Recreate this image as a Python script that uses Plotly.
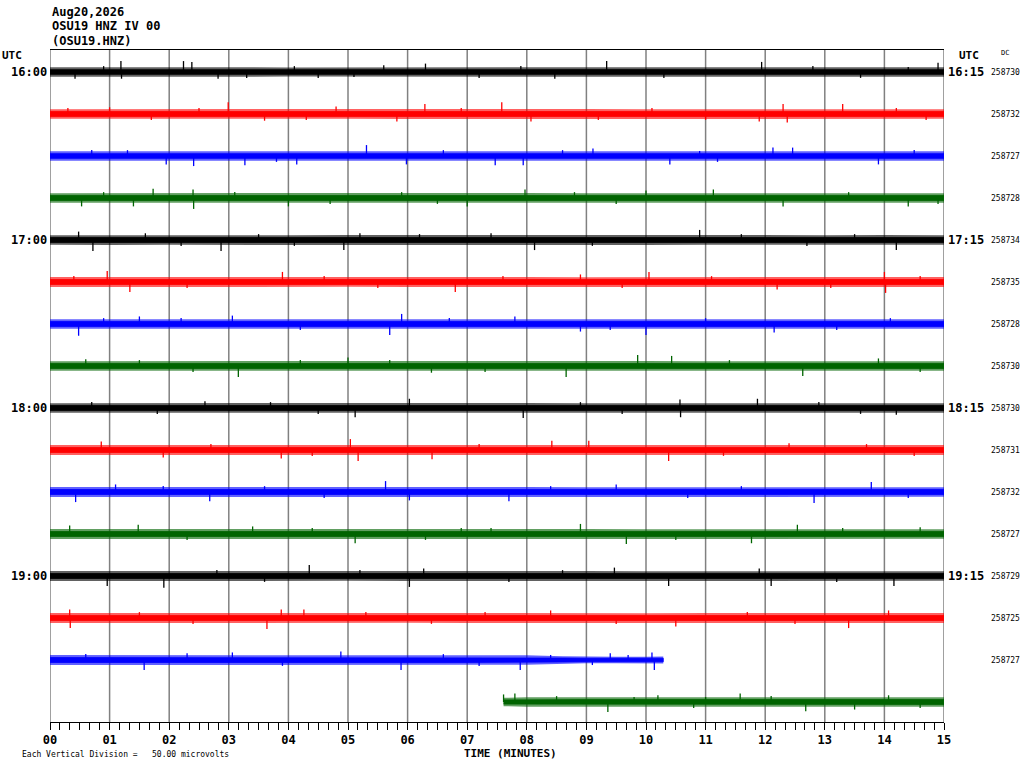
import plotly.graph_objects as go

# ---------------- data ----------------
HEADER_LINES = ["Aug20,2026", "OSU19 HNZ IV 00", "(OSU19.HNZ)"]
MINUTE_TICKS = list(range(16))
MINUTE_LABELS = ["%02d" % m for m in MINUTE_TICKS]
TRACE_COLORS = ["#000000", "#ff0000", "#0000ff", "#006400"]
TRACE_RGB = ["0,0,0", "255,0,0", "0,0,255", "0,100,0"]
LEFT_LABELS = {0: "16:00", 4: "17:00", 8: "18:00", 12: "19:00"}
RIGHT_LABELS = {0: "16:15", 4: "17:15", 8: "18:15", 12: "19:15"}
DC_VALUES = ["258730", "258732", "258727", "258728", "258734", "258735", "258728",
             "258730", "258730", "258731", "258732", "258727", "258729", "258725",
             "258727", ""]
UV_PER_LINE = 50.0  # microvolts between successive trace lines

# time samples (minutes) of the noise envelope for each trace
FULL = [float(m) for m in range(16)]
ENV_T = [FULL] * 14 + [
    [0, 1, 2, 3, 4, 5, 6, 7, 8, 8.6, 9, 9.5, 10, 10.29],
    [7.61, 8, 9, 10, 11, 12, 13, 14, 15],
]
# typical peak envelope (microvolts) of the background noise
ENV_A = [
    [5.6, 5.8, 6.0, 5.6, 5.5, 5.6, 5.7, 5.5, 5.6, 5.7, 5.5, 5.6, 5.7, 5.5, 5.6, 5.6],
    [5.8, 5.9, 5.8, 6.0, 5.8, 5.7, 5.9, 5.8, 6.0, 5.9, 5.8, 5.9, 6.0, 5.8, 5.9, 5.8],
    [5.6, 5.7, 5.8, 5.7, 5.6, 5.8, 5.6, 5.7, 5.8, 5.7, 5.6, 5.6, 5.8, 5.7, 5.6, 5.6],
    [5.8, 5.9, 6.0, 5.8, 5.7, 5.8, 5.7, 5.8, 5.9, 5.8, 5.7, 5.8, 5.8, 5.7, 5.8, 5.8],
    [5.8, 6.0, 5.8, 5.9, 5.8, 5.9, 5.8, 5.7, 5.8, 5.8, 5.9, 5.8, 5.8, 5.8, 6.0, 5.8],
    [5.9, 6.0, 5.9, 5.8, 5.9, 5.8, 5.9, 6.0, 5.9, 5.8, 5.9, 5.8, 5.9, 6.0, 6.0, 5.9],
    [5.8, 5.9, 5.8, 5.9, 5.8, 6.0, 6.0, 5.9, 5.8, 5.8, 5.9, 5.8, 5.8, 5.7, 5.8, 5.8],
    [5.8, 5.9, 5.8, 5.8, 5.9, 5.8, 5.8, 5.8, 5.9, 5.9, 6.0, 5.8, 5.8, 5.8, 5.9, 5.8],
    [5.8, 5.9, 5.8, 5.9, 5.8, 5.9, 5.8, 5.8, 5.9, 5.8, 5.9, 5.8, 5.9, 5.8, 5.9, 5.8],
    [5.9, 6.0, 5.9, 5.8, 5.9, 6.0, 5.9, 5.8, 6.0, 5.9, 5.9, 5.8, 5.9, 5.8, 5.9, 5.9],
    [5.9, 6.0, 6.0, 5.9, 6.0, 6.0, 5.9, 5.8, 5.9, 5.8, 5.9, 5.8, 5.9, 5.8, 5.9, 5.8],
    [5.9, 6.0, 5.9, 5.8, 5.8, 5.9, 5.8, 5.8, 5.9, 5.9, 5.8, 5.8, 5.9, 5.8, 5.8, 5.8],
    [5.9, 6.0, 5.9, 5.8, 5.9, 5.8, 5.9, 5.8, 5.8, 5.9, 5.8, 5.8, 5.9, 5.8, 5.9, 5.8],
    [6.0, 5.9, 5.8, 5.9, 6.0, 5.9, 5.8, 5.9, 5.8, 5.9, 5.8, 5.9, 6.0, 5.9, 6.0, 5.9],
    [5.9, 5.9, 5.8, 5.9, 6.0, 6.0, 5.9, 5.8, 5.6, 4.6, 4.0, 3.8, 3.8, 4.2],
    [5.0, 5.6, 5.7, 5.8, 5.7, 5.9, 5.8, 5.8, 5.8],
]
# spikes: time (minutes) and excursion (microvolts, + is up)
SPIKE_T = [
    [1.19, 2.24, 2.38, 0.42, 1.20, 2.82, 6.30, 8.47, 9.34, 11.94, 14.90, 4.50, 5.60,
     0.90, 3.30, 4.10, 7.20, 7.90, 10.30, 12.80, 13.60, 14.40, 5.10],
    [2.99, 6.29, 3.60, 5.82, 7.58, 12.30, 13.30, 8.07, 12.37, 11.90, 1.00, 4.80,
     0.30, 1.70, 2.50, 4.30, 6.90, 9.20, 10.10, 11.00, 14.20, 14.70],
    [5.31, 2.41, 1.95, 3.27, 4.14, 5.98, 7.47, 7.94, 9.11, 12.13, 12.46, 10.40, 13.90,
     0.70, 1.30, 3.80, 6.60, 8.60, 11.20, 14.50, 10.90],
    [1.73, 2.40, 2.41, 1.40, 0.53, 4.00, 7.00, 7.97, 10.00, 11.13, 12.30, 14.40,
     0.90, 3.10, 4.70, 5.90, 6.50, 8.80, 9.50, 13.40, 14.90],
    [0.48, 0.72, 2.87, 4.93, 5.20, 10.90, 8.13, 14.20, 1.60, 7.40,
     2.20, 3.50, 4.10, 6.20, 9.10, 11.60, 12.70, 13.50],
    [0.96, 3.90, 10.05, 14.00, 6.80, 1.34, 14.02, 8.90, 12.20,
     0.40, 2.30, 4.60, 5.50, 7.60, 9.60, 11.10, 13.10, 14.60],
    [5.90, 3.06, 0.48, 5.70, 10.00, 12.15, 7.80, 1.50, 8.90,
     2.20, 4.20, 6.70, 9.40, 11.00, 13.20, 14.10, 0.90],
    [9.86, 10.43, 5.00, 3.16, 8.66, 12.63, 0.60, 13.90, 6.40,
     1.50, 2.40, 4.20, 7.30, 11.40, 14.60, 5.70],
    [6.03, 10.57, 11.87, 7.94, 5.12, 10.58, 2.60, 14.20,
     0.70, 1.80, 3.70, 4.50, 8.90, 9.60, 12.90, 13.60],
    [5.04, 0.86, 8.42, 9.04, 5.17, 10.38, 3.88, 6.41, 12.40, 1.90,
     2.70, 4.40, 7.20, 11.30, 13.70, 14.50],
    [5.63, 13.78, 0.43, 12.82, 6.03, 7.70, 2.68, 1.10, 9.50,
     3.60, 4.60, 8.40, 10.70, 11.60, 14.40, 1.90],
    [8.90, 12.54, 0.33, 1.48, 5.12, 9.67, 11.77, 3.40, 14.60,
     2.30, 4.40, 6.30, 7.40, 10.50, 13.30, 6.90],
    [4.35, 6.27, 9.47, 1.91, 0.96, 6.03, 10.38, 14.16, 12.10, 11.90,
     2.80, 3.60, 5.20, 7.70, 8.60, 13.20],
    [0.33, 0.34, 3.88, 4.26, 3.64, 13.40, 14.07, 8.40, 10.50,
     1.50, 2.40, 5.30, 6.40, 7.30, 9.50, 11.70, 12.50],
    [4.88, 3.06, 1.58, 5.89, 7.89, 10.14, 10.10, 9.40, 2.30,
     0.60, 3.90, 6.60, 7.20, 8.40, 9.70, 9.10],
    [7.61, 11.58, 9.36, 7.80, 12.68, 14.07, 10.20, 13.50,
     8.50, 10.80, 12.10, 14.60, 9.80, 11.00],
]
SPIKE_A = [
    [13, 13, 12, -8, -8, -8, 10, -8, 13, 12, 11, -7, 8,
     7, -7, 7, -7, 7, -7, 7, -7, 6, -6],
    [14, 12, -8, -9, 14, 12, 12, -9, -10, -9, 8, 9,
     7, -7, 7, -7, 7, -7, 7, -7, 7, -7],
    [13, -12, -10, -11, -10, -10, -11, -11, 9, 10, 10, -10, -10,
     7, 7, -7, 7, 7, -7, 7, 6],
    [11, 10, -13, -10, -10, -10, -10, 10, 9, 10, -10, -10,
     7, 7, -7, 7, -7, 7, -7, 7, -7],
    [10, -13, -13, -12, 8, 12, -12, -12, 8, 8,
     -7, 7, -7, 7, -7, 7, -7, 7],
    [13, 12, 12, 12, -12, -12, -13, 9, -9,
     7, -7, 7, -7, 7, -7, 7, -7, 7],
    [12, 10, -14, -13, -13, -10, 9, 9, -9,
     7, -7, 7, -7, 7, -7, 7, 7],
    [13, 12, 10, -13, -13, -12, 8, 9, -8,
     7, -7, 7, -7, 7, -7, 7],
    [11, 10, 11, -12, -11, -11, 8, -8,
     7, -7, 7, -7, 7, -7, 7, -7],
    [13, 10, 11, 11, -13, -13, -10, -11, 8, -9,
     7, -7, 7, -7, 7, -7],
    [13, 12, -12, -13, -10, -11, -11, 9, 9,
     7, -7, 7, -7, 7, -7, 7],
    [12, 11, 10, 11, -11, -12, -11, 9, 8,
     -7, 7, -7, 7, -7, 7, 7],
    [13, 9, 10, -14, -12, -13, -12, -12, -12, 9,
     7, -7, 7, -7, 7, -7],
    [10, -12, 10, 10, -13, -12, 9, 9, -10,
     7, -7, 7, -7, 7, -7, 7, -7],
    [10, 9, -12, -12, -12, -12, 9, 8, 8,
     7, -7, 7, -7, 6, 6, -6],
    [9, 10, -12, 10, -11, 8, 8, -9,
     7, -7, 7, -7, 6, 6],
]

N_TRACES = len(ENV_T)
FONT = "DejaVu Sans Mono"
CORE_FRACTION = 0.5    # drawing style: share of envelope rendered as solid core
HALO_OPACITY = 0.62    # drawing style: density of the outer noise halo

fig = go.Figure()

for i in range(N_TRACES):
    color = TRACE_COLORS[i % 4]
    rgb = TRACE_RGB[i % 4]
    base = -i * UV_PER_LINE
    t = ENV_T[i]
    a = ENV_A[i]
    xs = list(t) + list(reversed(t))
    ys = [base + v for v in a] + [base - v for v in reversed(a)]
    fig.add_trace(go.Scatter(x=xs, y=ys, fill="toself",
                             fillcolor="rgba(%s,%s)" % (rgb, HALO_OPACITY),
                             mode="lines", line=dict(width=0),
                             hoverinfo="skip", showlegend=False))
    yc = [base + CORE_FRACTION * v for v in a] + \
         [base - CORE_FRACTION * v for v in reversed(a)]
    fig.add_trace(go.Scatter(x=xs, y=yc, fill="toself", fillcolor=color,
                             mode="lines", line=dict(color=color, width=0.8),
                             hoverinfo="skip", showlegend=False))
    sx, sy = [], []
    for tt, aa in zip(SPIKE_T[i], SPIKE_A[i]):
        sx += [tt, tt, None]
        sy += [base, base + aa, None]
    fig.add_trace(go.Scatter(x=sx, y=sy, mode="lines",
                             line=dict(color=color, width=1.3),
                             hoverinfo="skip", showlegend=False))

# plot geometry (pixels)
L, R, T, B = 50, 80, 50, 46
W, H = 1024, 768
pw, ph = W - L - R, H - T - B
top_y = UV_PER_LINE * (72 - T) / 42.0
bot_y = -UV_PER_LINE * (H - B - 72) / 42.0

def px(xp):
    return (xp - L) / pw

def py(yp):
    return (H - B - yp) / ph

shapes = []
for m in MINUTE_TICKS:
    shapes.append(dict(type="line", xref="x", yref="paper", x0=m, x1=m, y0=0, y1=1,
                       line=dict(color="#808080", width=1.5), layer="below"))

ann = []
for k, line in enumerate(HEADER_LINES):
    ann.append(dict(text=line, xref="paper", yref="paper", x=px(50), y=py(12 + 14.5 * k),
                    xanchor="left", yanchor="middle", showarrow=False,
                    font=dict(family=FONT, size=12, color="black", weight="bold")))
ann.append(dict(text="UTC", xref="paper", yref="paper", x=px(0), y=py(56),
                xanchor="left", yanchor="middle", showarrow=False,
                font=dict(family=FONT, size=11, color="black", weight="bold")))
ann.append(dict(text="UTC", xref="paper", yref="paper", x=px(957), y=py(56),
                xanchor="left", yanchor="middle", showarrow=False,
                font=dict(family=FONT, size=11, color="black", weight="bold")))
ann.append(dict(text="DC", xref="paper", yref="paper", x=px(999), y=py(53),
                xanchor="left", yanchor="middle", showarrow=False,
                font=dict(family=FONT, size=7, color="black")))
for i, lab in LEFT_LABELS.items():
    ann.append(dict(text=lab, xref="paper", yref="y", x=px(49), y=-i * UV_PER_LINE,
                    xanchor="right", yanchor="middle", showarrow=False,
                    font=dict(family=FONT, size=12, color="black", weight="bold")))
for i, lab in RIGHT_LABELS.items():
    ann.append(dict(text=lab, xref="paper", yref="y", x=px(946), y=-i * UV_PER_LINE,
                    xanchor="left", yanchor="middle", showarrow=False,
                    font=dict(family=FONT, size=12, color="black", weight="bold")))
for i, lab in enumerate(DC_VALUES):
    if lab:
        ann.append(dict(text=lab, xref="paper", yref="y", x=px(989), y=-i * UV_PER_LINE,
                        xanchor="left", yanchor="middle", showarrow=False,
                        font=dict(family=FONT, size=8, color="black")))
ann.append(dict(text="TIME (MINUTES)", xref="paper", yref="paper", x=px(510), y=py(753),
                xanchor="center", yanchor="middle", showarrow=False,
                font=dict(family=FONT, size=11, color="black", weight="bold")))
ann.append(dict(text="Each Vertical Division =   50.00 microvolts", xref="paper",
                yref="paper", x=px(20), y=py(754), xanchor="left", yanchor="middle",
                showarrow=False, font=dict(family=FONT, size=8, color="black")))

fig.update_layout(
    width=W, height=H,
    margin=dict(l=L, r=R, t=T, b=B, pad=0),
    paper_bgcolor="white", plot_bgcolor="white",
    showlegend=False,
    shapes=shapes, annotations=ann,
    xaxis=dict(range=[0, 15], tickvals=MINUTE_TICKS, ticktext=MINUTE_LABELS,
               showgrid=False, zeroline=False, showline=True, linecolor="black",
               linewidth=1, mirror=True, ticks="outside", ticklen=7, tickwidth=1,
               tickcolor="black",
               minor=dict(dtick=1 / 6, ticks="outside", ticklen=7, tickwidth=1,
                          tickcolor="black", showgrid=False),
               tickfont=dict(family=FONT, size=12, color="black", weight="bold")),
    yaxis=dict(range=[bot_y, top_y], visible=False, showgrid=False, zeroline=False),
)

fig.write_html("out.html", config={"displayModeBar": False},
               post_script="document.body.style.margin='0';")
